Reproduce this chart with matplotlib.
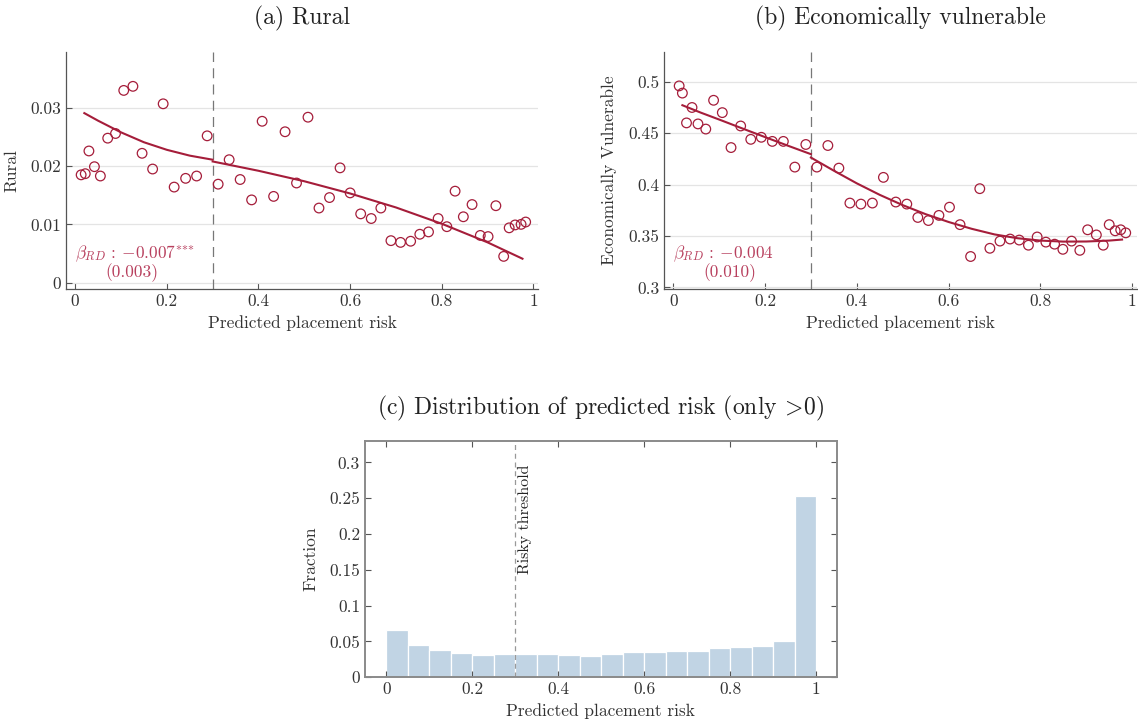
import numpy as np
import matplotlib
matplotlib.use('Agg')
import matplotlib.pyplot as plt
from matplotlib.ticker import FuncFormatter

plt.rcParams['font.family'] = 'cmr10'
plt.rcParams['mathtext.fontset'] = 'cm'
plt.rcParams['axes.unicode_minus'] = False

red = '#a51d3a'
red_txt = '#b8405e'
grey = '#555555'

# (a) Rural: binned means
rural_x = [0.013, 0.022, 0.030, 0.042, 0.055, 0.071, 0.088, 0.106, 0.126, 0.146,
           0.169, 0.192, 0.216, 0.241, 0.265, 0.288, 0.312, 0.336, 0.360, 0.385,
           0.408, 0.433, 0.458, 0.483, 0.508, 0.532, 0.555, 0.578, 0.600, 0.623,
           0.646, 0.667, 0.689, 0.710, 0.732, 0.752, 0.771, 0.792, 0.811, 0.829,
           0.847, 0.866, 0.884, 0.901, 0.918, 0.935, 0.947, 0.960, 0.973, 0.983]
rural_y = [0.0185, 0.0187, 0.0226, 0.0199, 0.0183, 0.0248, 0.0256, 0.0330, 0.0337, 0.0222,
           0.0195, 0.0307, 0.0164, 0.0179, 0.0183, 0.0252, 0.0169, 0.0211, 0.0177, 0.0142,
           0.0277, 0.0148, 0.0259, 0.0171, 0.0284, 0.0128, 0.0146, 0.0197, 0.0154, 0.0118,
           0.0110, 0.0128, 0.0072, 0.0069, 0.0071, 0.0083, 0.0087, 0.0110, 0.0096, 0.0157,
           0.0113, 0.0134, 0.0081, 0.0079, 0.0132, 0.0045, 0.0094, 0.0099, 0.0100, 0.0104]
# fitted lines, below / above threshold
rural_fit_lo_x = [0.02, 0.05, 0.10, 0.15, 0.20, 0.25, 0.30]
rural_fit_lo_y = [0.0291, 0.0278, 0.0258, 0.0241, 0.0228, 0.0218, 0.0211]
rural_fit_hi_x = [0.30, 0.40, 0.50, 0.60, 0.70, 0.80, 0.90, 0.976]
rural_fit_hi_y = [0.0208, 0.0192, 0.0174, 0.0153, 0.0129, 0.0101, 0.0069, 0.0041]

# (b) Economically vulnerable
econ_x = [0.013, 0.020, 0.029, 0.041, 0.054, 0.071, 0.088, 0.107, 0.126, 0.147,
          0.169, 0.192, 0.216, 0.240, 0.265, 0.289, 0.313, 0.337, 0.361, 0.385,
          0.409, 0.434, 0.458, 0.485, 0.509, 0.533, 0.556, 0.579, 0.602, 0.625,
          0.648, 0.668, 0.690, 0.712, 0.734, 0.754, 0.774, 0.793, 0.812, 0.831,
          0.849, 0.868, 0.886, 0.903, 0.922, 0.937, 0.950, 0.963, 0.975, 0.986]
econ_y = [0.496, 0.489, 0.460, 0.475, 0.459, 0.454, 0.482, 0.470, 0.436, 0.457,
          0.444, 0.446, 0.442, 0.442, 0.417, 0.439, 0.417, 0.438, 0.416, 0.382,
          0.381, 0.382, 0.407, 0.383, 0.381, 0.368, 0.365, 0.370, 0.378, 0.361,
          0.330, 0.396, 0.338, 0.345, 0.347, 0.346, 0.341, 0.349, 0.344, 0.342,
          0.337, 0.345, 0.336, 0.356, 0.351, 0.341, 0.361, 0.355, 0.356, 0.353]
econ_fit_lo_x = [0.02, 0.06, 0.10, 0.15, 0.20, 0.25, 0.30]
econ_fit_lo_y = [0.4772, 0.4700, 0.4633, 0.4547, 0.4462, 0.4378, 0.4296]
econ_fit_hi_x = [0.30, 0.35, 0.40, 0.45, 0.50, 0.55, 0.60, 0.65, 0.70, 0.75,
                 0.80, 0.85, 0.90, 0.95, 0.978]
econ_fit_hi_y = [0.4263, 0.4135, 0.4012, 0.3900, 0.3800, 0.3712, 0.3636, 0.3570,
                 0.3515, 0.3478, 0.3455, 0.3445, 0.3446, 0.3455, 0.3465]

# (c) histogram of predicted risk
bin_edges = np.arange(0, 1.0001, 0.05)
fractions = [0.0663, 0.0453, 0.0388, 0.0336, 0.0313, 0.0322, 0.0332, 0.0332, 0.0313, 0.0304,
             0.0332, 0.0350, 0.0350, 0.0373, 0.0373, 0.0411, 0.0430, 0.0443, 0.0509, 0.2533]

threshold = 0.3
fmt = FuncFormatter(lambda v, p: '%g' % round(v, 4))

fig = plt.figure(figsize=(11.38, 7.25), dpi=100)


def binscatter(ax, x, y, lo_x, lo_y, hi_x, hi_y, ylabel, ylim, yticks, beta, se, se_x):
    ax.grid(axis='y', color='#e4e4e4', linewidth=0.9)
    ax.set_axisbelow(True)
    ax.scatter(x, y, s=48, facecolors='none', edgecolors=red, linewidths=0.9, zorder=3)
    ax.plot(lo_x, lo_y, color=red, linewidth=1.5, zorder=4)
    ax.plot(hi_x, hi_y, color=red, linewidth=1.5, zorder=4)
    ax.axvline(threshold, color='#777777', linewidth=0.9, dashes=(8, 5))
    ax.set_xlim(-0.02, 1.01)
    ax.set_ylim(*ylim)
    ax.set_xticks([0, 0.2, 0.4, 0.6, 0.8, 1])
    ax.set_yticks(yticks)
    ax.xaxis.set_major_formatter(fmt)
    ax.yaxis.set_major_formatter(fmt)
    for s in ['top', 'right']:
        ax.spines[s].set_visible(False)
    for s in ['left', 'bottom']:
        ax.spines[s].set_color(grey)
        ax.spines[s].set_linewidth(0.9)
    ax.tick_params(direction='in', length=4, color=grey, labelsize=12.5, labelcolor='#333333')
    ax.set_xlabel('Predicted placement risk', fontsize=12.5, color='#333333', labelpad=4)
    ax.set_ylabel(ylabel, fontsize=12.5, color='#333333', labelpad=8)
    ax.text(0.0, beta[1], r'$\beta_{RD}$ : ' + beta[0], color=red_txt, fontsize=12.5,
            ha='left', va='baseline')
    ax.text(se_x, se[1], se[0], color=red_txt, fontsize=12.5, ha='left', va='baseline')


ax1 = fig.add_axes([0.058, 0.6014, 0.4148, 0.3269])
binscatter(ax1, rural_x, rural_y, rural_fit_lo_x, rural_fit_lo_y, rural_fit_hi_x, rural_fit_hi_y,
           'Rural', (-0.0011, 0.0396), [0, 0.01, 0.02, 0.03],
           (r'$-0.007^{{*}{*}{*}}$', 0.0041), ('(0.003)', 0.0009), 0.065)

ax2 = fig.add_axes([0.5835, 0.6014, 0.4154, 0.3269])
binscatter(ax2, econ_x, econ_y, econ_fit_lo_x, econ_fit_lo_y, econ_fit_hi_x, econ_fit_hi_y,
           'Economically Vulnerable', (0.2984, 0.529), [0.3, 0.35, 0.4, 0.45, 0.5],
           (r'$-0.004$', 0.328), ('(0.010)', 0.310), 0.065)

fig.text(0.2652, 0.975, '(a) Rural', fontsize=17, ha='center', va='center', color='#222222')
fig.text(0.791, 0.975, '(b) Economically vulnerable', fontsize=17, ha='center', va='center',
         color='#222222')

ax3 = fig.add_axes([0.3207, 0.0658, 0.4145, 0.3259])
ax3.bar(bin_edges[:-1], fractions, width=0.05, align='edge', color='#c1d4e4',
        edgecolor='white', linewidth=0.9)
ax3.axvline(threshold, color='#999999', linewidth=0.9, dashes=(4, 3))
ax3.text(threshold + 0.006, 0.297, 'Risky threshold', rotation=90, ha='left', va='top',
         fontsize=11.5, color='#222222')
ax3.set_xlim(-0.05, 1.048)
ax3.set_ylim(0, 0.33)
ax3.set_xticks([0, 0.2, 0.4, 0.6, 0.8, 1])
ax3.set_yticks([0, 0.05, 0.1, 0.15, 0.2, 0.25, 0.3])
ax3.xaxis.set_major_formatter(fmt)
ax3.yaxis.set_major_formatter(fmt)
for s in ax3.spines.values():
    s.set_color('#8a8a8a')
    s.set_linewidth(1.4)
ax3.tick_params(direction='in', length=4, color=grey, top=True, right=True,
                labelsize=12.5, labelcolor='#333333')
ax3.set_xlabel('Predicted placement risk', fontsize=12.5, color='#333333', labelpad=4)
ax3.set_ylabel('Fraction', fontsize=12.5, color='#333333', labelpad=8)
fig.text(0.528, 0.437, r'(c) Distribution of predicted risk (only $\!>\!$0)', fontsize=17,
         ha='center', va='center', color='#222222')

plt.savefig('out.png', dpi=100)
